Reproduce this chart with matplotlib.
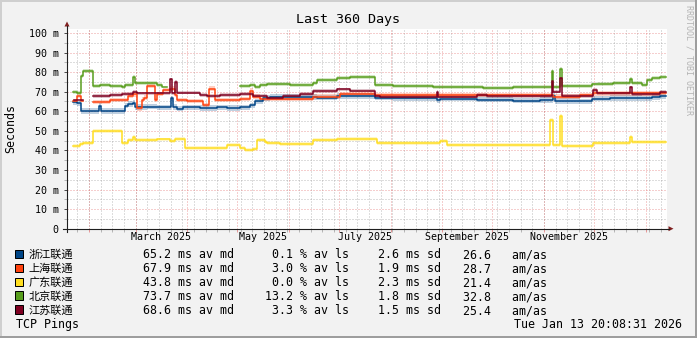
import matplotlib
matplotlib.use('Agg')
import matplotlib.pyplot as plt
import numpy as np
from matplotlib.patches import Polygon, Rectangle
from datetime import datetime, timedelta

W, H = 697, 338
MONO = 'DejaVu Sans Mono'
CJK = ['Noto Sans CJK SC', 'DejaVu Sans Mono']

# time range of the graph
start = datetime(2025, 1, 18, 20, 8, 31)
span_days = 360
y_top = 102.2

names = ['浙江联通', '上海联通', '广东联通', '北京联通', '江苏联通']
colors = ['#004586', '#ff420e', '#ffde20', '#579d1c', '#7e0021']
avg_md = [65.2, 67.9, 43.8, 73.7, 68.6]
loss_pct = [0.1, 3.0, 0.0, 13.2, 3.3]
sdev = [2.6, 1.9, 2.3, 1.8, 1.5]
am_as = [26.6, 28.7, 21.4, 32.8, 25.4]
smoke_ms = [1.4, 1.1, 1.0, 1.0, 0.9]

# median rtt (ms), step points, x = days since start, nan = no data
zj_days = [3.8, 5.8, 8.4, 19.4, 20.2, 34.8, 36.8, 39.8, 40.8, 47.8, 53.8, 62.4, 63.8, 65.8, 69.8,
           79.8, 89.8, 95.8, 103.8, 109.8, 112.8, 117.8, 121.8, 149.8, 161.8, 184.8, 195.8, 221.8,
           223.8, 245.8, 267.8, 283.8, 291.8, 292.8, 307.8, 314.8, 325.8, 344.8, 350.8, 355.8, 359.2]
zj_ms = [64.6, 64.0, 60.1, 62.6, 60.1, 62.9, 63.6, 64.4, 62.2, 62.4, 62.0, 66.6, 62.2, 61.4, 62.0,
         61.7, 62.0, 61.8, 62.0, 63.0, 65.0, 66.7, 67.3, 67.0, 67.8, 67.0, 66.9, 65.7,
         66.4, 66.0, 65.5, 65.8, 68.0, 65.3, 65.0, 66.4, 66.9, 66.6, 67.2, 67.8, 67.8]

sh_days = [3.8, 5.8, 8.4, 9.8, 15.8, 25.8, 36.8, 39.8, 41.8, 44.8, 46.2, 47.8, 52.8, 53.8, 57.8,
           61.8, 64.8, 65.8, 71.8, 81.8, 85.2, 88.8, 103.8, 109.8, 111.8, 115.8, 147.8, 163.8,
           184.8, 223.8, 291.8, 307.8, 315.8, 359.2]
sh_ms = [65.4, 68.0, 65.4, np.nan, 64.6, 65.8, 68.0, 68.6, 61.5, 66.0, 67.0, 72.9, 65.8, 68.7, 70.8,
         71.6, 68.3, 65.8, 65.2, 63.1, 71.6, 65.8, 66.4, 70.6, 67.5, 66.4, 67.5, 68.7,
         68.3, 68.2, 67.5, 68.3, 69.1, 69.1]

gd_days = [3.8, 7.8, 9.8, 15.8, 32.8, 36.8, 39.8, 40.8, 53.8, 61.8, 64.8, 70.8, 95.8, 103.8,
           106.8, 111.8, 113.8, 118.8, 119.8, 127.8, 147.8, 161.8, 185.8, 223.8, 227.8, 289.8,
           291.8, 295.8, 296.8, 315.8, 337.8, 338.8, 359.2]
gd_ms = [42.3, 43.3, 43.6, 49.9, 44.0, 45.3, 47.0, 45.3, 45.6, 45.0, 45.7, 41.1, 42.8, 41.1,
         40.2, 40.8, 45.3, 44.4, 43.9, 43.3, 45.3, 45.7, 43.6, 45.0, 42.8, 55.5,
         42.8, 57.6, 42.4, 43.6, 47.1, 44.3, 44.3]

bj_days = [3.8, 5.8, 8.4, 9.8, 15.8, 19.8, 25.8, 32.8, 34.8, 39.8, 40.8, 47.8, 53.8, 56.8, 59.8,
           103.8, 109.8, 112.8, 115.8, 119.8, 133.8, 139.8, 147.8, 149.8, 161.8, 169.8, 184.8,
           195.8, 219.8, 223.8, 249.8, 267.8, 290.8, 291.8, 295.8, 296.8, 314.8, 317.8, 327.8,
           337.8, 338.8, 344.8, 347.8, 350.8, 355.8, 359.2]
bj_ms = [69.8, 69.2, 78.0, 80.8, 72.9, 73.2, 72.8, 72.6, 73.4, 77.3, 74.6, 74.3, 73.6, 72.5, np.nan,
         73.1, 73.6, 72.3, 73.6, 74.0, 73.6, 73.2, 74.5, 75.9, 76.8, 77.3, 73.4,
         73.0, 72.4, 72.2, 72.1, 72.2, 80.7, 72.6, 81.6, 73.0, 73.7, 74.0, 74.3,
         76.5, 74.3, 73.3, 76.0, 76.8, 77.3, 77.3]

js_days = [4.0, 9.8, 15.8, 25.8, 32.8, 39.8, 41.8, 61.8, 63.2, 64.8, 65.8, 79.8, 83.8, 91.8,
           103.8, 111.8, 119.8, 129.8, 139.8, 147.8, 161.8, 169.8, 184.8, 187.8, 221.8, 222.8,
           245.8, 251.8, 290.8, 291.8, 295.8, 296.8, 315.8, 317.8, 337.8, 338.8, 355.8, 359.2]
js_ms = [65.8, np.nan, 67.8, 68.3, 68.7, 70.0, 69.2, 76.3, 69.2, 74.9, 69.5, 68.3, 67.8, 68.3,
         68.7, 68.0, 66.8, 68.0, 68.7, 70.4, 71.2, 70.5, 67.6, 67.2, 70.0, 67.5,
         68.3, 67.8, 75.5, 70.0, 76.8, 67.8, 70.9, 69.2, 72.2, 68.9, 70.0, 70.0]

series_days = [zj_days, sh_days, gd_days, bj_days, js_days]
series_ms = [zj_ms, sh_ms, gd_ms, bj_ms, js_ms]


def day_of(d):
    return (d - start).total_seconds() / 86400.0


fig = plt.figure(figsize=(W / 100, H / 100), dpi=100)
fig.patch.set_facecolor('#f2f2f2')

ax = fig.add_axes([67 / W, 1 - 228.7 / H, 600 / W, 200 / H], zorder=1)
ax.set_facecolor('white')
ax.set_xlim(0, span_days)
ax.set_ylim(0, y_top)
for s in ax.spines.values():
    s.set_visible(False)

grid_c = (0.56, 0.56, 0.56, 0.6)
mgrid_c = (0.87, 0.31, 0.31, 0.55)
dots = (0, (1, 2))

# weeks and months
end = start + timedelta(days=span_days)
weeks = []
d = datetime(2025, 1, 25)
while d < end:
    weeks.append(day_of(d))
    d += timedelta(days=7)
months = []
mids = []
labels = []
y, m = 2025, 2
while True:
    d0 = datetime(y, m, 1)
    if d0 >= end:
        break
    ny, nm = (y + 1, 1) if m == 12 else (y, m + 1)
    d1 = datetime(ny, nm, 1)
    months.append(day_of(d0))
    if m % 2 == 1 and d1 <= end:
        mids.append(day_of(d0 + (d1 - d0) / 2))
        labels.append(d0.strftime('%B %Y'))
    y, m = ny, nm

for x in weeks:
    ax.axvline(x, color=grid_c, lw=0.72, ls=dots, zorder=0)
for v in range(5, 101, 10):
    ax.axhline(v, color=grid_c, lw=0.72, ls=dots, zorder=0)
for x in months:
    ax.axvline(x, color=mgrid_c, lw=0.72, ls=dots, zorder=0)
for v in range(10, 101, 10):
    ax.axhline(v, color=mgrid_c, lw=0.72, ls=dots, zorder=0)

ax.set_xticks(months)
ax.set_xticks(weeks, minor=True)
ax.set_yticks(range(0, 101, 10))
ax.set_yticks(range(5, 101, 10), minor=True)
ax.set_yticklabels(['0'] + ['%d m' % v for v in range(10, 101, 10)])
ax.tick_params(axis='x', which='major', length=1.8, width=0.72, color=mgrid_c, labelbottom=False)
ax.tick_params(axis='x', which='minor', length=1.8, width=0.72, color=grid_c)
ax.tick_params(axis='y', which='major', length=2.2, width=0.72, color=(0.3, 0.3, 0.3), pad=3.8,
               labelsize=7.2)
ax.tick_params(axis='y', which='minor', length=2.2, width=0.72, color=grid_c)
for t in ax.get_yticklabels():
    t.set_family(MONO)

for x, lab in zip(mids, labels):
    ax.text(x, -0.042, lab, transform=ax.get_xaxis_transform(), ha='center', va='center',
            fontsize=7.2, family=MONO)

# smoke then median lines
for dd, ms, c, hw in zip(series_days, series_ms, colors, smoke_ms):
    dd = np.array(dd)
    ms = np.array(ms)
    ok = ~np.isnan(ms)
    ax.fill_between(dd, ms - hw, ms + hw, where=ok, step='post', color=c, alpha=0.25, lw=0,
                    zorder=2)
for dd, ms, c in zip(series_days, series_ms, colors):
    ax.plot(dd, ms, drawstyle='steps-post', color=c, lw=1.1, zorder=3)

# overlay in pixel units for axes, arrows and texts
ov = fig.add_axes([0, 0, 1, 1], zorder=3)
ov.set_xlim(0, W)
ov.set_ylim(H, 0)
ov.axis('off')
ov.patch.set_alpha(0)

axis_c = (0.12, 0.12, 0.12)
arrow_c = (0.5, 0.12, 0.12)
ov.plot([63, 669], [228.7, 228.7], color=axis_c, lw=0.8)
ov.plot([67, 67], [232, 26], color=axis_c, lw=0.8)
ov.add_patch(Polygon([(668.5, 226.2), (673.5, 228.7), (668.5, 231.2)], closed=True, color=arrow_c, lw=0))
ov.add_patch(Polygon([(64.5, 26.5), (67, 21.5), (69.5, 26.5)], closed=True, color=arrow_c, lw=0))

# frame shading
ov.add_patch(Rectangle((0, 0), W, 2, color='#cfcfcf', lw=0))
ov.add_patch(Rectangle((0, 0), 2, H, color='#cfcfcf', lw=0))
ov.add_patch(Rectangle((0, H - 2), W, 2, color='#9e9e9e', lw=0))
ov.add_patch(Rectangle((W - 2, 0), 2, H, color='#9e9e9e', lw=0))

ov.text(348.5, 19, 'Last 360 Days', ha='center', va='center', fontsize=9.6, family=MONO)
ov.text(10.5, 128.7, 'Seconds', rotation=90, ha='center', va='center', fontsize=8.4, family=MONO)
ov.text(688.5, 5, 'RRDTOOL / TOBI OETIKER', rotation=270, ha='center', va='top', fontsize=6,
        family=MONO, color='#b4b4b4')

for i in range(len(names)):
    ty = 255 + i * 13.9
    ov.add_patch(Rectangle((15, ty - 5.3), 8, 8.5, facecolor=colors[i], edgecolor='black', lw=0.72))
    ov.text(28.3, ty, names[i], ha='left', va='center', fontsize=8, family=CJK)
    ov.text(143.3, ty, '%.1f ms av md' % avg_md[i], ha='left', va='center', fontsize=8.4, family=MONO)
    ov.text(257.7, ty, '%5.1f %% av ls' % loss_pct[i], ha='left', va='center', fontsize=8.4, family=MONO)
    ov.text(377.5, ty, '%.1f ms sd' % sdev[i], ha='left', va='center', fontsize=8.4, family=MONO)
    ov.text(463.3, ty, '%.1f   am/as' % am_as[i], ha='left', va='center', fontsize=8.4, family=MONO)

ov.text(16.3, 324.7, 'TCP Pings', ha='left', va='center', fontsize=8.4, family=MONO)
ov.text(681.5, 324.7, 'Tue Jan 13 20:08:31 2026', ha='right', va='center', fontsize=8.4, family=MONO)

plt.savefig('out.png', dpi=100, facecolor=fig.get_facecolor())
